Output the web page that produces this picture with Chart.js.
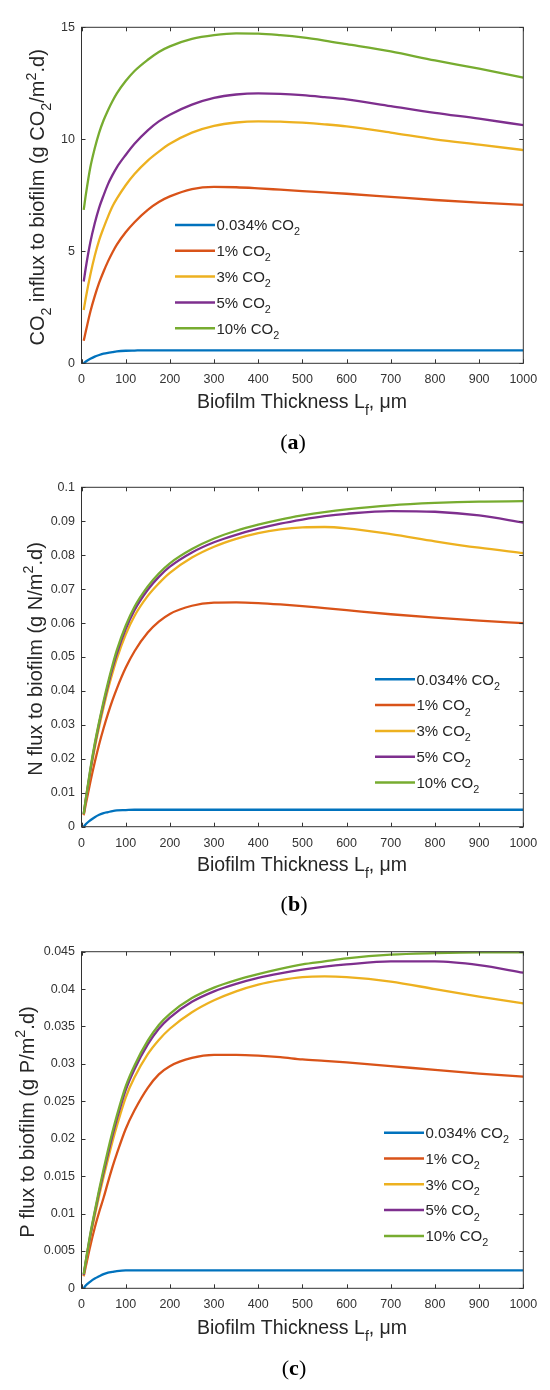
<!DOCTYPE html>
<html>
<head>
<meta charset="utf-8">
<script src="https://cdn.jsdelivr.net/npm/chart.js@4.4.0/dist/chart.umd.min.js"></script>
<style>
body{margin:0;background:#fff;width:550px;height:1390px;position:relative;overflow:hidden;}
.panel{position:absolute;left:0;width:550px;}
.cap{position:absolute;font-family:"Liberation Serif","DejaVu Serif",serif;font-size:22px;color:#000;transform:translate(-50%,-50%);white-space:nowrap;}
</style>
</head>
<body>
<div class="panel" style="top:0px"><canvas id="chartA" width="550" height="463"></canvas></div>
<div class="panel" style="top:463px"><canvas id="chartB" width="550" height="463"></canvas></div>
<div class="panel" style="top:926px"><canvas id="chartC" width="550" height="464"></canvas></div>
<div class="cap" style="left:293px;top:442px">(<b>a</b>)</div>
<div class="cap" style="left:294px;top:904px">(<b>b</b>)</div>
<div class="cap" style="left:294px;top:1368px">(<b>c</b>)</div>
<script>
// biofilm thickness (um) at which the curves are read
var thickness = [5,10,20,30,40,50,60,70,80,100,120,150,175,200,250,300,350,400,450,500,550,600,700,800,900,1000];

var seriesLabels = ['0.034% CO_2','1% CO_2','3% CO_2','5% CO_2','10% CO_2'];

// (a) CO2 influx to biofilm, g CO2/m2.d
var co2Flux_0034 = [0,0.08,0.2,0.3,0.37,0.43,0.47,0.5,0.53,0.56,0.57,0.58,0.58,0.58,0.58,0.58,0.58,0.58,0.58,0.58,0.58,0.58,0.58,0.58,0.58,0.58];
var co2Flux_1 = [1.01,1.45,2.3,3.0,3.6,4.1,4.55,4.95,5.3,5.85,6.3,6.85,7.2,7.45,7.78,7.88,7.86,7.81,7.75,7.69,7.63,7.57,7.43,7.29,7.17,7.07];
var co2Flux_3 = [2.38,2.95,3.95,4.8,5.5,6.05,6.55,7.0,7.35,7.95,8.45,9.05,9.45,9.8,10.3,10.6,10.75,10.8,10.79,10.74,10.67,10.58,10.3,10.0,9.76,9.52];
var co2Flux_5 = [3.65,4.3,5.4,6.25,6.95,7.5,8.0,8.4,8.75,9.3,9.8,10.4,10.8,11.1,11.55,11.85,12.0,12.05,12.03,11.97,11.88,11.78,11.48,11.18,10.92,10.63];
var co2Flux_10 = [6.85,7.55,8.75,9.6,10.3,10.85,11.3,11.7,12.05,12.6,13.05,13.55,13.9,14.15,14.48,14.65,14.73,14.72,14.65,14.55,14.41,14.25,13.92,13.52,13.15,12.75];

// (b) N flux to biofilm, g N/m2.d
var nFlux_0034 = [0,0.0008,0.0019,0.0028,0.0035,0.004,0.0043,0.0046,0.0048,0.0049,0.005,0.005,0.005,0.005,0.005,0.005,0.005,0.005,0.005,0.005,0.005,0.005,0.005,0.005,0.005,0.005];
var nFlux_1 = [0.0034,0.0068,0.0132,0.019,0.0243,0.029,0.0333,0.0372,0.0407,0.0468,0.0517,0.0572,0.0604,0.0627,0.0651,0.066,0.0661,0.0659,0.0655,0.065,0.0644,0.0638,0.0626,0.0616,0.0607,0.06];
var nFlux_3 = [0.0036,0.008,0.016,0.0232,0.0295,0.0352,0.0405,0.0452,0.0495,0.0566,0.0621,0.068,0.0717,0.0748,0.0793,0.0825,0.0848,0.0865,0.0876,0.0882,0.0883,0.0879,0.0862,0.0841,0.0822,0.0806];
var nFlux_5 = [0.0037,0.0083,0.0166,0.024,0.0305,0.0363,0.0417,0.0466,0.051,0.0582,0.0638,0.0698,0.0736,0.0766,0.0808,0.0838,0.086,0.0878,0.0893,0.0905,0.0915,0.0922,0.093,0.0928,0.0917,0.0896];
var nFlux_10 = [0.0038,0.0085,0.017,0.0245,0.031,0.037,0.0425,0.0475,0.052,0.0592,0.0648,0.0708,0.0746,0.0776,0.0818,0.0849,0.0872,0.089,0.0905,0.0917,0.0927,0.0935,0.0947,0.0954,0.0958,0.0959];

// (c) P flux to biofilm, g P/m2.d
var pFlux_0034 = [0,0.0004,0.0009,0.0013,0.0016,0.0019,0.0021,0.0022,0.0023,0.0024,0.0024,0.0024,0.0024,0.0024,0.0024,0.0024,0.0024,0.0024,0.0024,0.0024,0.0024,0.0024,0.0024,0.0024,0.0024,0.0024];
var pFlux_1 = [0.0016,0.003,0.0057,0.0081,0.0102,0.0121,0.0142,0.0162,0.018,0.0213,0.0238,0.0268,0.0286,0.0297,0.0308,0.0312,0.0312,0.0311,0.0309,0.0306,0.0304,0.0302,0.0297,0.0292,0.0287,0.0283];
var pFlux_3 = [0.0017,0.0035,0.0068,0.0097,0.0124,0.0149,0.0173,0.0196,0.0217,0.0255,0.0282,0.0313,0.0332,0.0347,0.0369,0.0385,0.0397,0.0406,0.0412,0.0416,0.0417,0.0416,0.041,0.04,0.039,0.0381];
var pFlux_5 = [0.0018,0.0037,0.0071,0.0101,0.0129,0.0155,0.018,0.0204,0.0226,0.0265,0.0293,0.0326,0.0347,0.0362,0.0383,0.0397,0.0407,0.0415,0.0421,0.0426,0.043,0.0433,0.0437,0.0437,0.0432,0.0422];
var pFlux_10 = [0.0019,0.0038,0.0073,0.0103,0.0132,0.0159,0.0185,0.0209,0.0231,0.027,0.0298,0.0331,0.0352,0.0367,0.0388,0.0402,0.0412,0.042,0.0427,0.0433,0.0437,0.0441,0.0446,0.0448,0.0449,0.0449];

var xTicks = [0,100,200,300,400,500,600,700,800,900,1000];
var xTickLabels = ['0','100','200','300','400','500','600','700','800','900','1000'];
var yTicksA = [0,5,10,15];
var yTickLabelsA = ['0','5','10','15'];
var yTicksB = [0,0.01,0.02,0.03,0.04,0.05,0.06,0.07,0.08,0.09,0.1];
var yTickLabelsB = ['0','0.01','0.02','0.03','0.04','0.05','0.06','0.07','0.08','0.09','0.1'];
var yTicksC = [0,0.005,0.01,0.015,0.02,0.025,0.03,0.035,0.04,0.045];
var yTickLabelsC = ['0','0.005','0.01','0.015','0.02','0.025','0.03','0.035','0.04','0.045'];

var xTitle = 'Biofilm Thickness L_f, \u03bcm';
var yTitleA = 'CO_2 influx to biofilm (g CO_2/m^2.d)';
var yTitleB = 'N flux to biofilm (g N/m^2.d)';
var yTitleC = 'P flux to biofilm (g P/m^2.d)';

var colors = ['#0072BD','#D95319','#EDB120','#7E2F8E','#77AC30'];
var FONT = '"Liberation Sans", Arial, Helvetica, sans-serif';

// split "CO_2" style strings into normal / sub / sup pieces
function texParts(s){
  var out = [], buf = '', i = 0;
  while (i < s.length) {
    var c = s[i];
    if ((c == '_' || c == '^') && i + 1 < s.length) {
      if (buf) { out.push({t: buf, m: 0}); buf = ''; }
      out.push({t: s[i+1], m: c == '_' ? 1 : -1});
      i += 2;
    } else { buf += c; i++; }
  }
  if (buf) out.push({t: buf, m: 0});
  return out;
}

// y is the middle of the capital letters
function drawTex(ctx, s, x, y, size, align){
  var parts = texParts(s), w = 0;
  parts.forEach(function(p){
    ctx.font = (p.m ? size*0.72 : size) + 'px ' + FONT;
    p.w = ctx.measureText(p.t).width;
    w += p.w;
  });
  var cx = align == 'center' ? x - w/2 : x;
  var base = y + size*0.358;
  ctx.textBaseline = 'alphabetic';
  ctx.textAlign = 'left';
  parts.forEach(function(p){
    ctx.font = (p.m ? size*0.72 : size) + 'px ' + FONT;
    var dy = p.m == 1 ? size*0.34 : (p.m == -1 ? -size*0.42 : 0);
    ctx.fillText(p.t, cx, base + dy);
    cx += p.w;
  });
  return w;
}

var matlabAxes = {
  id: 'matlabAxes',
  afterDraw: function(chart, args, opts){
    var ctx = chart.ctx, a = chart.chartArea;
    var xs = chart.scales.x, ys = chart.scales.y;
    ctx.save();
    // box + inward ticks on all four sides
    ctx.strokeStyle = '#333';
    ctx.lineWidth = 1;
    ctx.strokeRect(a.left, a.top, a.right - a.left, a.bottom - a.top);
    ctx.beginPath();
    xs.ticks.forEach(function(t){
      var px = Math.round(xs.getPixelForValue(t.value)) + 0.5;
      ctx.moveTo(px, a.bottom); ctx.lineTo(px, a.bottom - 4);
      ctx.moveTo(px, a.top); ctx.lineTo(px, a.top + 4);
    });
    ys.ticks.forEach(function(t){
      var py = Math.round(ys.getPixelForValue(t.value)) + 0.5;
      ctx.moveTo(a.left, py); ctx.lineTo(a.left + 4, py);
      ctx.moveTo(a.right, py); ctx.lineTo(a.right - 4, py);
    });
    ctx.stroke();

    // axis titles
    ctx.fillStyle = '#262626';
    drawTex(ctx, opts.xTitle, opts.xTitleX, opts.xTitleY, 19.5, 'center');
    ctx.save();
    ctx.translate(opts.yTitleX, (a.top + a.bottom)/2 + 2);
    ctx.rotate(-Math.PI/2);
    drawTex(ctx, opts.yTitle, 0, 0, 20, 'center');
    ctx.restore();

    // legend without box
    chart.data.datasets.forEach(function(ds, i){
      var y = opts.legendY + i*opts.legendGap;
      ctx.strokeStyle = ds.borderColor;
      ctx.lineWidth = 2.5;
      ctx.beginPath();
      ctx.moveTo(opts.legendX, y); ctx.lineTo(opts.legendX + 40, y);
      ctx.stroke();
      ctx.fillStyle = '#262626';
      drawTex(ctx, ds.label, opts.legendX + 41.5, y, 15, 'left');
    });
    ctx.restore();
  }
};

function makeChart(id, series, yMax, yTicks, yLabels, yTitle, pos){
  var canvas = document.getElementById(id);
  var H = canvas.height;
  var datasets = series.map(function(vals, i){
    return {
      label: seriesLabels[i],
      data: thickness.map(function(x, j){ return {x: x, y: vals[j]}; }),
      borderColor: colors[i],
      backgroundColor: colors[i],
      borderWidth: 2.3,
      pointRadius: 0,
      cubicInterpolationMode: 'monotone',
      order: 5 - i
    };
  });
  return new Chart(canvas, {
    type: 'line',
    data: {datasets: datasets},
    plugins: [matlabAxes],
    options: {
      responsive: false,
      animation: false,
      layout: {padding: {left: 0, right: 26.7, top: pos.top, bottom: 0}},
      plugins: {
        legend: {display: false},
        tooltip: {enabled: false},
        matlabAxes: {
          xTitle: xTitle, xTitleX: 302, xTitleY: 401,
          yTitle: yTitle, yTitleX: pos.yTitleX,
          legendX: pos.legendX, legendY: pos.legendY, legendGap: 25.8
        }
      },
      scales: {
        x: {
          type: 'linear', min: 0, max: 1000,
          grid: {display: false, drawTicks: false},
          border: {display: false},
          afterBuildTicks: function(s){ s.ticks = xTicks.map(function(v){ return {value: v}; }); },
          afterFit: function(s){ s.height = H - pos.bottom; },
          ticks: {
            padding: 9, color: '#333', autoSkip: false, maxRotation: 0,
            font: {family: FONT, size: 12.5},
            callback: function(v, i){ return xTickLabels[i]; }
          }
        },
        y: {
          type: 'linear', min: 0, max: yMax,
          grid: {display: false, drawTicks: false},
          border: {display: false},
          afterBuildTicks: function(s){ s.ticks = yTicks.map(function(v){ return {value: v}; }); },
          afterFit: function(s){ s.width = 81.5; },
          ticks: {
            padding: 6.5, color: '#333', autoSkip: false,
            font: {family: FONT, size: 12.5},
            callback: function(v, i){ return yLabels[i]; }
          }
        }
      }
    }
  });
}

makeChart('chartA', [co2Flux_0034, co2Flux_1, co2Flux_3, co2Flux_5, co2Flux_10], 15,
  yTicksA, yTickLabelsA, yTitleA,
  {top: 27.3, bottom: 363.3, yTitleX: 37, legendX: 175, legendY: 225});
makeChart('chartB', [nFlux_0034, nFlux_1, nFlux_3, nFlux_5, nFlux_10], 0.1,
  yTicksB, yTickLabelsB, yTitleB,
  {top: 24.3, bottom: 363.7, yTitleX: 34.4, legendX: 375, legendY: 216.3});
makeChart('chartC', [pFlux_0034, pFlux_1, pFlux_3, pFlux_5, pFlux_10], 0.045,
  yTicksC, yTickLabelsC, yTitleC,
  {top: 25.7, bottom: 362.3, yTitleX: 26.6, legendX: 384, legendY: 206.7});
</script>
</body>
</html>
